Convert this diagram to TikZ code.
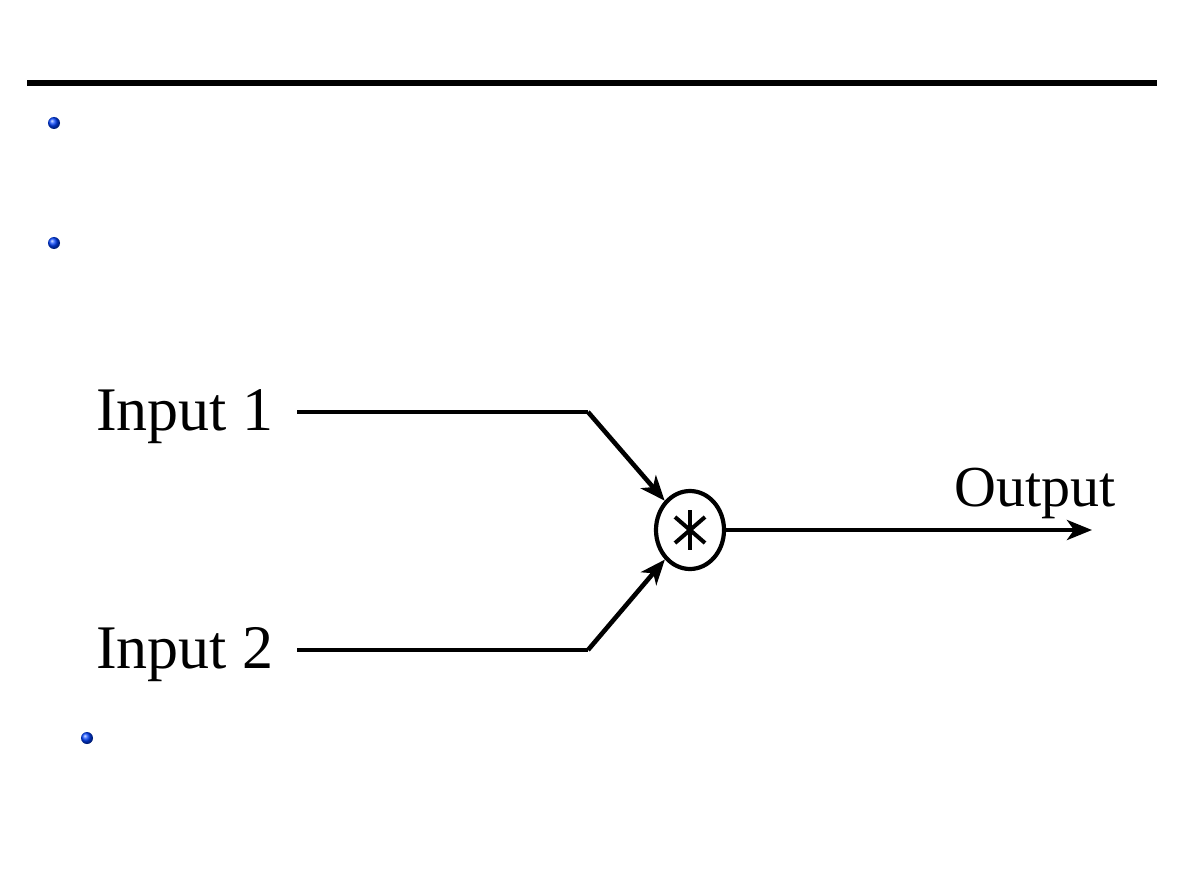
\documentclass[tikz,border=0pt]{standalone}
\usepackage{fontspec}
\setmainfont{Liberation Serif}
\usetikzlibrary{arrows.meta,shapes.geometric}
\begin{document}
\begin{tikzpicture}[x=1pt,y=-1pt,
  lbl/.style={anchor=base west,inner sep=0pt,font=\fontsize{62}{64}\selectfont},
  wire/.style={line width=4.6pt,line join=miter},
  arr/.style={wire,-{Stealth[length=25pt,width=20pt,inset=7pt]}},
  bulletdot/.style={ball color=blue!75!cyan},
  mult/.style={ellipse,draw,line width=4.2pt,minimum width=68pt,minimum height=78pt,inner sep=0pt}]
\useasboundingbox (0,0) rectangle (1190,893);
% title rule
\draw[line width=5.2pt] (27,83) -- (1157,83);
% bullets
\shade[bulletdot] (54,123) circle (6pt);
\shade[bulletdot] (54,243) circle (6pt);
\shade[bulletdot] (87,738) circle (6pt);
% labels
\node[lbl] (in1) at (96,430) {Input 1};
\node[lbl] (in2) at (96,668) {Input 2};
\node[lbl,font=\fontsize{58}{60}\selectfont] (outl) at (954,506) {Output};
% multiplier
\node[mult] (mul) at (690,530) {};
\draw[line width=4pt] (mul.center) ++(0,-20) -- ++(0,40);
\draw[line width=4pt] (mul.center) ++(-15,-13) -- ++(30,26);
\draw[line width=4pt] (mul.center) ++(-15,13) -- ++(30,-26);
% wires
\coordinate (s1) at (297,412);
\coordinate (b1) at (588,412);
\coordinate (s2) at (297,650);
\coordinate (b2) at (588,650);
\coordinate (o) at (1092,530);
\draw[wire] (s1) -- (b1);
\draw[arr] (b1) -- (mul);
\draw[wire] (s2) -- (b2);
\draw[arr] (b2) -- (mul);
\draw[arr] (mul) -- (o);
\end{tikzpicture}
\end{document}
